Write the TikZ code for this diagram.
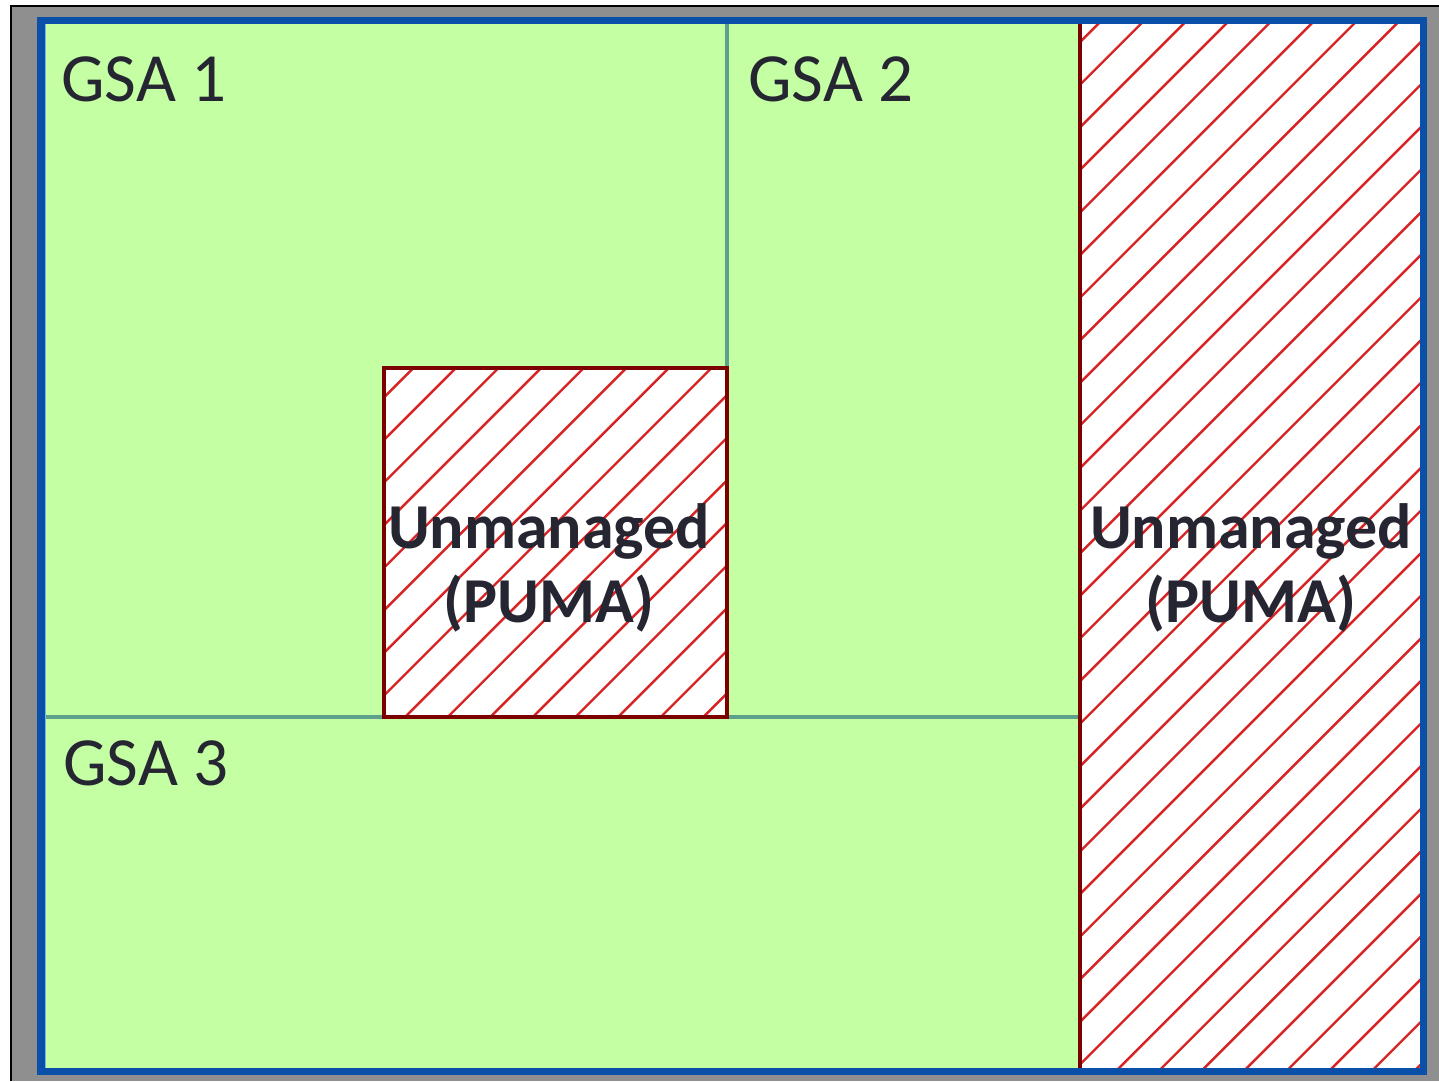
\documentclass[tikz,border=0pt]{standalone}
\usepackage{fontspec}
\setmainfont{Carlito}
\begin{document}
\begin{tikzpicture}[x=0.5pt,y=-0.5pt]
\definecolor{bgray}{RGB}{143,143,143}
\definecolor{frameblue}{RGB}{10,80,168}
\definecolor{inblue}{RGB}{120,180,240}
\definecolor{gsagreen}{RGB}{196,255,163}
\definecolor{divteal}{RGB}{95,160,140}
\definecolor{hatchred}{RGB}{215,35,35}
\definecolor{edgered}{RGB}{125,0,0}
\definecolor{txt}{RGB}{38,38,50}
\tikzset{
  gsalabel/.style={anchor=base west,inner sep=0pt,text=txt,font=\fontsize{34.5}{40}\selectfont},
  unmlabel/.style={anchor=base,inner sep=0pt,text=txt,align=center,font=\fontsize{32}{37}\selectfont\bfseries},
  divider/.style={draw=divteal,line width=1.6pt},
  hatch/.style={draw=hatchred,line width=1.2pt},
  unmbox/.style={draw=edgered,line width=1.6pt},
}
\useasboundingbox (0,0) rectangle (1439,1081);
\fill[white] (0,0) rectangle (1439,1081);
% gray backdrop
\fill[bgray] (11,6) rectangle (1439,1081);
\draw[black,line width=0.6pt] (11,1081) -- (11,6) -- (1439,6);
% green area
\fill[gsagreen] (41,20) rectangle (1424,1072);
% hatched regions (white)
\fill[white] (1080,20) rectangle (1424,1072);
\fill[white] (384,368) rectangle (727,717);
% hatching
\begin{scope}
  \clip (1080,20) rectangle (1424,1072) (384,368) rectangle (727,717);
  \foreach \k in {0,...,60} {
    \pgfmathsetmacro{\c}{781.3+42.6*(\k-20)}
    \draw[hatch] (\c-1100,1100) -- (\c,0);
  }
\end{scope}
% dividers
\draw[divider] (727,24) -- (727,368);
\draw[divider] (45,717) -- (384,717);
\draw[divider] (727,717) -- (1080,717);
% unmanaged box borders
\draw[unmbox] (384,368) rectangle (727,717);
\draw[unmbox] (1080,22) -- (1080,1070);
% outer frame
\draw[inblue,line width=1pt] (45,24) -- (45,1068);
\draw[frameblue,line width=3.8pt] (41,20.5) rectangle (1423.5,1071.5);
% labels
\node[gsalabel] (g1) at (61,102) {GSA 1};
\node[gsalabel] (g2) at (748,102) {GSA 2};
\node[gsalabel] (g3) at (63,785) {GSA 3};
\node[unmlabel] (u1) at (549,622) {Unmanaged\\(PUMA)};
\node[unmlabel] (u2) at (1251,622) {Unmanaged\\(PUMA)};
\end{tikzpicture}
\end{document}
